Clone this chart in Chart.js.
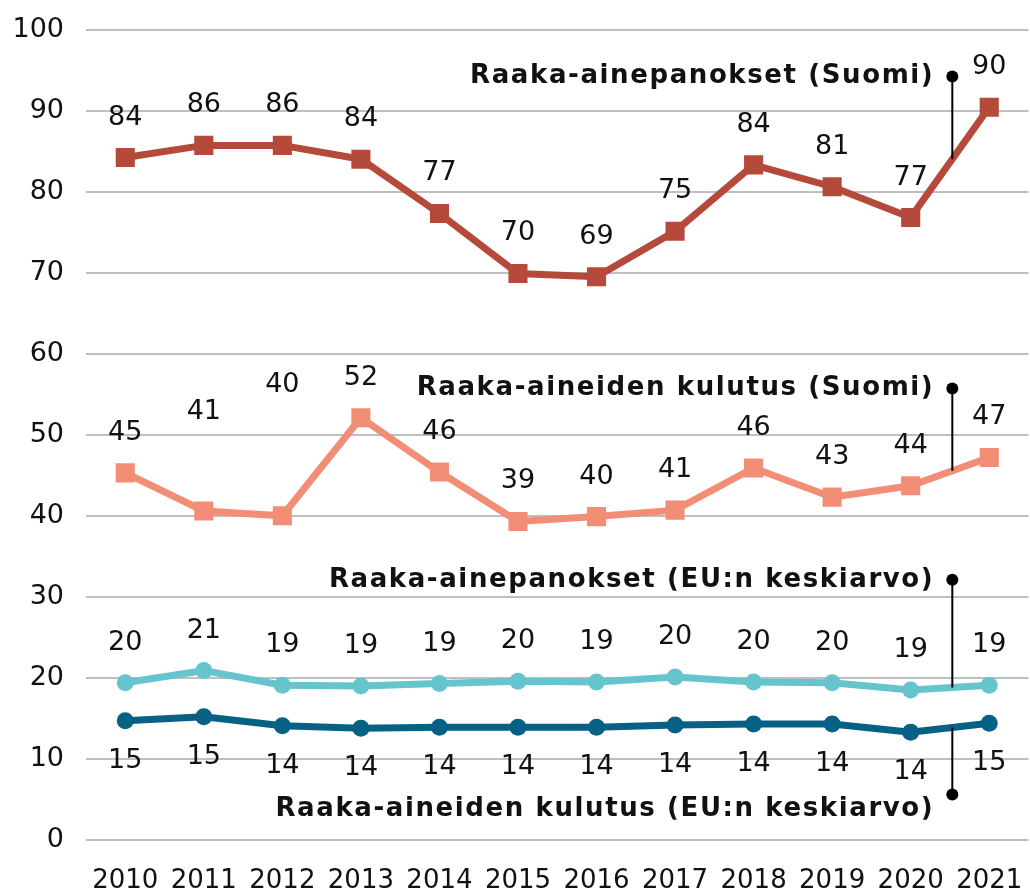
<!DOCTYPE html>
<html>
<head>
<meta charset="utf-8">
<script src="https://cdn.jsdelivr.net/npm/chart.js@4"></script>
<style>
  html, body { margin: 0; padding: 0; background: #fff; overflow: hidden; }
  #wrap { width: 1042px; height: 892px; position: relative; }
</style>
</head>
<body>
<div id="wrap"><canvas id="chart"></canvas></div>
<script>
// years on the x axis
const years = ['2010', '2011', '2012', '2013', '2014', '2015', '2016', '2017', '2018', '2019', '2020', '2021'];

const panoksetSuomi = [84.2, 85.7, 85.7, 84.0, 77.3, 69.9, 69.5, 75.1, 83.3, 80.6, 76.8, 90.4];
const panoksetSuomiLabels = [84, 86, 86, 84, 77, 70, 69, 75, 84, 81, 77, 90];

const kulutusSuomi = [45.3, 40.6, 40.0, 52.1, 45.4, 39.3, 39.9, 40.7, 45.9, 42.3, 43.7, 47.2];
const kulutusSuomiLabels = [45, 41, 40, 52, 46, 39, 40, 41, 46, 43, 44, 47];

const panoksetEU = [19.4, 20.9, 19.1, 19.0, 19.3, 19.6, 19.5, 20.1, 19.5, 19.4, 18.5, 19.1];
const panoksetEULabels = [20, 21, 19, 19, 19, 20, 19, 20, 20, 20, 19, 19];

const kulutusEU = [14.7, 15.2, 14.1, 13.8, 13.9, 13.9, 13.9, 14.2, 14.3, 14.3, 13.3, 14.4];
const kulutusEULabels = [15, 15, 14, 14, 14, 14, 14, 14, 14, 14, 14, 15];

const seriesNames = [
  'Raaka-ainepanokset (Suomi)',
  'Raaka-aineiden kulutus (Suomi)',
  'Raaka-ainepanokset (EU:n keskiarvo)',
  'Raaka-aineiden kulutus (EU:n keskiarvo)'
];

// y ticks
const yTicks = [0, 10, 20, 30, 40, 50, 60, 70, 80, 90, 100];

const FONT = '"DejaVu Sans", sans-serif';

// where the name of each series sits (in axis units) and a few hand moved labels
const nameAnchor = [94.2, 55.7, 32.1, 5.6];
const nameTextShift = [0, 0, 0, 15];
const labelNudge = { 1: { 1: -99, 2: -131 } };

// draws value labels and the series names with their leader lines
const annotate = {
  id: 'annotate',
  afterDatasetsDraw(chart) {
    const { ctx, scales: { x, y } } = chart;
    ctx.save();
    ctx.textAlign = 'center';
    ctx.textBaseline = 'middle';
    ctx.fillStyle = '#111';
    ctx.font = '27px ' + FONT;
    chart.data.datasets.forEach((ds, i) => {
      const meta = chart.getDatasetMeta(i);
      meta.data.forEach((pt, j) => {
        let dy = ds.labelBelow ? 40 : -40;
        if (labelNudge[i] && labelNudge[i][j] !== undefined) dy = labelNudge[i][j];
        ctx.fillText(String(ds.valueLabels[j]), pt.x, pt.y + dy);
      });
    });

    // leader lines between 2020 and 2021
    const x0 = x.getPixelForValue(10), x1 = x.getPixelForValue(11);
    const f = 0.53;
    const lx = x0 + f * (x1 - x0);
    ctx.font = 'bold 26px ' + FONT;
    ctx.letterSpacing = '1.6px';
    ctx.textAlign = 'right';
    chart.data.datasets.forEach((ds, i) => {
      const meta = chart.getDatasetMeta(i);
      const p0 = meta.data[10], p1 = meta.data[11];
      const ly = p0.y + f * (p1.y - p0.y);
      const dotY = y.getPixelForValue(nameAnchor[i]);
      ctx.strokeStyle = '#000';
      ctx.lineWidth = 2;
      ctx.beginPath();
      ctx.moveTo(lx, dotY);
      ctx.lineTo(lx, ly);
      ctx.stroke();
      ctx.fillStyle = '#000';
      ctx.beginPath();
      ctx.arc(lx, dotY, 6, 0, Math.PI * 2);
      ctx.fill();
      ctx.fillStyle = '#111';
      ctx.fillText(seriesNames[i], lx - 18, dotY + nameTextShift[i]);
    });
    ctx.restore();
  }
};

function makeSeries(name, data, labels, color, style, below) {
  return {
    label: name,
    data: data,
    valueLabels: labels,
    labelBelow: below,
    borderColor: color,
    backgroundColor: color,
    borderWidth: 7,
    tension: 0,
    pointStyle: style,
    pointRadius: style === 'rect' ? 13.5 : 8.5,
    pointBorderWidth: 0,
    pointHoverRadius: style === 'rect' ? 13.5 : 8.5
  };
}

new Chart(document.getElementById('chart'), {
  type: 'line',
  data: {
    labels: years,
    datasets: [
      makeSeries(seriesNames[0], panoksetSuomi, panoksetSuomiLabels, '#b5493a', 'rect', false),
      makeSeries(seriesNames[1], kulutusSuomi, kulutusSuomiLabels, '#f28e76', 'rect', false),
      makeSeries(seriesNames[2], panoksetEU, panoksetEULabels, '#66c4cc', 'circle', false),
      makeSeries(seriesNames[3], kulutusEU, kulutusEULabels, '#066184', 'circle', true)
    ]
  },
  options: {
    responsive: true,
    maintainAspectRatio: false,
    animation: false,
    layout: { padding: { top: 29.5, right: 0, left: 0, bottom: 0 } },
    plugins: {
      legend: { display: false },
      tooltip: { enabled: false }
    },
    scales: {
      x: {
        offset: true,
        grid: { display: false, drawTicks: false },
        border: { display: false },
        ticks: { font: { size: 26, family: FONT }, color: '#111', padding: 26, maxRotation: 0 },
        afterFit: s => { s.height = 52; s.paddingLeft = 0; s.paddingRight = 0; }
      },
      y: {
        min: 0,
        max: 100,
        afterBuildTicks: s => { s.ticks = yTicks.map(v => ({ value: v })); },
        grid: { color: '#bfbfbf', lineWidth: 2, drawTicks: false },
        border: { display: false },
        ticks: { font: { size: 27, family: FONT }, color: '#111', padding: 22 },
        afterFit: s => { s.width = 86; s.paddingTop = 0; s.paddingBottom = 0; }
      }
    }
  },
  plugins: [annotate]
});
</script>
</body>
</html>
